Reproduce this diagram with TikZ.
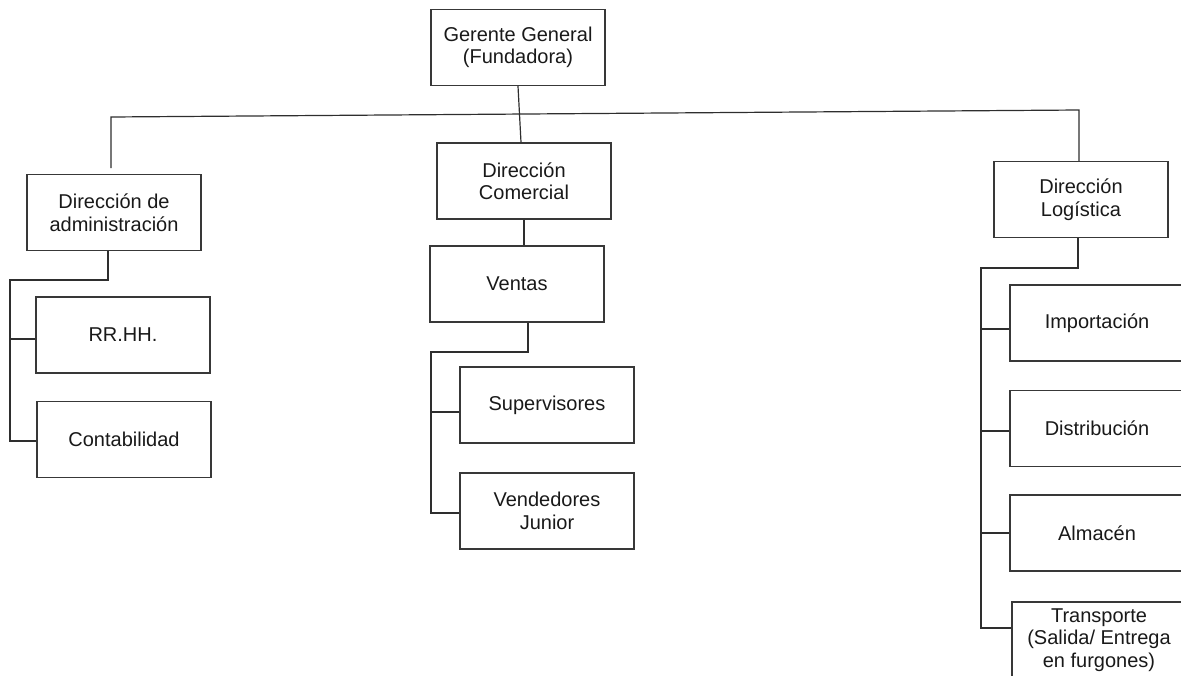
\documentclass[tikz,border=0pt]{standalone}
\usepackage{fontspec}
\setmainfont{Liberation Sans}
\usetikzlibrary{calc}
\begin{document}
\begin{tikzpicture}[x=1pt,y=-1pt,
  box/.style={draw=black!78, line width=1.3pt, minimum width=174pt, minimum height=76pt,
    align=center, inner sep=0pt, text=black!90, font=\fontsize{20}{22.5}\selectfont},
  conn/.style={draw=black!82, line width=1.2pt}]
\useasboundingbox (0,0) rectangle (1181,675);
\clip (0,0) rectangle (1181,675);
% nodes
\node[box] (ger) at (518,47.5) {Gerente General\\(Fundadora)};
\node[box] (adm) at (114,212.5) {Dirección de\\administración};
\node[box] (com) at (524,181) {Dirección\\Comercial};
\node[box] (log) at (1081,199.5) {Dirección\\Logística};
\node[box] (rr) at (123,335) {RR.HH.};
\node[box] (cont) at (124,439.5) {Contabilidad};
\node[box] (ven) at (517,284) {Ventas};
\node[box] (sup) at (547,405) {Supervisores};
\node[box] (vj) at (547,511) {Vendedores\\Junior};
\node[box] (imp) at (1097,323) {Importación};
\node[box] (dis) at (1097,428.5) {Distribución};
\node[box] (alm) at (1097,533) {Almacén};
\node[box] (tra) at (1099,640) {Transporte\\(Salida/ Entrega\\en furgones)};
% top bus
\coordinate (busL) at (111,117);
\coordinate (busR) at (1079,110);
\coordinate (admTop) at (111,168);
\draw[conn] (ger.south) -- ($(com.north)+(-3,0)$);
\draw[conn] (admTop) -- (busL) -- (busR) -- (busR |- log.north);
% admin subtree
\coordinate (a0) at (108,280);
\coordinate (aL) at (10,280);
\coordinate (a1) at (10,339);
\coordinate (a2) at (10,441);
\draw[conn] (a0 |- adm.south) -- (a0) -- (aL) -- (a2) -- (a2 -| cont.west);
\draw[conn] (a1) -- (a1 -| rr.west);
% commercial subtree
\draw[conn] (com.south) -- (com.south |- ven.north);
\coordinate (c0) at (528,352);
\coordinate (cL) at (431,352);
\coordinate (c1) at (431,412);
\coordinate (c2) at (431,513);
\draw[conn] (c0 |- ven.south) -- (c0) -- (cL) -- (c2) -- (c2 -| vj.west);
\draw[conn] (c1) -- (c1 -| sup.west);
% logistics subtree
\coordinate (l0) at (1078,268);
\coordinate (lL) at (981,268);
\coordinate (l1) at (981,329);
\coordinate (l2) at (981,431);
\coordinate (l3) at (981,533);
\coordinate (l4) at (981,628);
\draw[conn] (l0 |- log.south) -- (l0) -- (lL) -- (l4) -- (l4 -| tra.west);
\draw[conn] (l1) -- (l1 -| imp.west);
\draw[conn] (l2) -- (l2 -| dis.west);
\draw[conn] (l3) -- (l3 -| alm.west);
\end{tikzpicture}
\end{document}
